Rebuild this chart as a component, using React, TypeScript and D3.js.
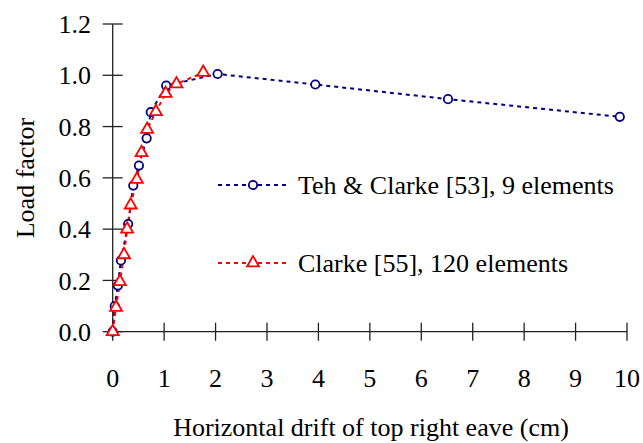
import React from 'react';
import * as d3 from 'd3';

// Teh & Clarke [53], 9 elements
const tehX = [0, 0.04, 0.1, 0.16, 0.3, 0.4, 0.51, 0.66, 0.74, 1.04, 2.04, 3.94, 6.52, 9.86];
const tehY = [0, 0.1, 0.18, 0.278, 0.42, 0.57, 0.648, 0.754, 0.856, 0.96, 1.005, 0.964, 0.907, 0.838];

// Clarke [55], 120 elements
const clarkeX = [0, 0.065, 0.14, 0.22, 0.28, 0.35, 0.47, 0.56, 0.67, 0.84, 1.03, 1.24, 1.76];
const clarkeY = [0, 0.095, 0.195, 0.3, 0.4, 0.494, 0.594, 0.698, 0.789, 0.858, 0.929, 0.966, 1.011];

const xTicks = [0, 1, 2, 3, 4, 5, 6, 7, 8, 9, 10];
const yTicks = [0, 0.2, 0.4, 0.6, 0.8, 1.0, 1.2];

const legendLabels = ['Teh & Clarke [53], 9 elements', 'Clarke [55], 120 elements'];

const width = 643;
const height = 443;
const blue = '#000080';
const red = '#ff0000';

const x = d3.scaleLinear().domain([0, 10]).range([112.7, 627]);
const y = d3.scaleLinear().domain([0, 1.2]).range([331.7, 24]);

const line = d3.line<[number, number]>()
  .x(d => x(d[0]))
  .y(d => y(d[1]));

const tri = d3.symbol().type(d3.symbolTriangle).size(62)() as string;

const css = `
#chart text { font-family: "Liberation Serif", "Times New Roman", Tinos, serif !important; font-size: 26px !important; fill: #000; }
`;

const Label = (props: any) => (
  <text style={{ fontFamily: '"Times New Roman"' }} {...props} />
);

const App = () => {
  const teh = tehX.map((v, i) => [v, tehY[i]] as [number, number]);
  const clarke = clarkeX.map((v, i) => [v, clarkeY[i]] as [number, number]);

  return (
    <svg id="chart" width={width} height={height}
      style={{ position: 'absolute', left: 0, top: 0, background: '#fff' }}>
      <style>{css}</style>
      {/* axes */}
      <line x1={x(0)} x2={x(0)} y1={y(1.2)} y2={y(0)} stroke="#222" strokeWidth={1.3} />
      <line x1={x(0)} x2={x(10)} y1={y(0)} y2={y(0)} stroke="#222" strokeWidth={1.3} />
      {yTicks.map(t => (
        <g key={'y' + t}>
          <line x1={x(0) - 10} x2={x(0) + 10} y1={y(t)} y2={y(t)} stroke="#222" strokeWidth={1.3} />
          <Label x={91} y={y(t)} dy="0.35em" textAnchor="end">{t.toFixed(1)}</Label>
        </g>
      ))}
      {xTicks.map(t => (
        <g key={'x' + t}>
          <line x1={x(t)} x2={x(t)} y1={y(0) - 9} y2={y(0) + 9} stroke="#222" strokeWidth={1.3} />
          <Label x={x(t)} y={387} textAnchor="middle">{t}</Label>
        </g>
      ))}
      <Label x={371} y={436} textAnchor="middle">Horizontal drift of top right eave (cm)</Label>
      <Label transform="translate(34,178) rotate(-90)" textAnchor="middle">Load factor</Label>

      {/* series */}
      <path d={line(teh) as string} fill="none" stroke={blue} strokeWidth={2} strokeDasharray="4,4" />
      <path d={line(clarke) as string} fill="none" stroke={red} strokeWidth={2} strokeDasharray="4,4" />
      {teh.map((d, i) => (
        <circle key={'c' + i} cx={x(d[0])} cy={y(d[1])} r={4.2} fill="#fff" stroke={blue} strokeWidth={1.8} />
      ))}
      {clarke.map((d, i) => (
        <path key={'t' + i} d={tri} transform={`translate(${x(d[0])},${y(d[1])})`} fill="#fff" stroke={red} strokeWidth={1.8} />
      ))}

      {/* legend */}
      <g transform="translate(0,185)">
        <line x1={218} x2={288} y1={0} y2={0} stroke={blue} strokeWidth={2} strokeDasharray="4,4" />
        <circle cx={253} cy={0} r={4.2} fill="#fff" stroke={blue} strokeWidth={1.8} />
        <Label x={298} y={0} dy="0.33em">{legendLabels[0]}</Label>
      </g>
      <g transform="translate(0,263)">
        <line x1={218} x2={288} y1={0} y2={0} stroke={red} strokeWidth={2} strokeDasharray="4,4" />
        <path d={tri} transform="translate(253,0)" fill="#fff" stroke={red} strokeWidth={1.8} />
        <Label x={298} y={0} dy="0.33em">{legendLabels[1]}</Label>
      </g>
    </svg>
  );
};

export default App;
